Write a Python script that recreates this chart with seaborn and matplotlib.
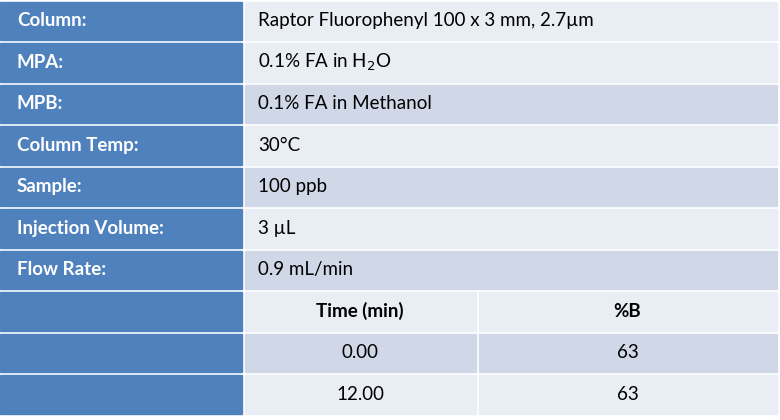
import matplotlib
matplotlib.use("Agg")
import matplotlib.pyplot as plt
import seaborn as sns
from matplotlib.patches import Rectangle

sns.set_theme(style="white")
plt.rcParams['font.family'] = ['Lato', 'DejaVu Sans']

labels = ["Column:", "MPA:", "MPB:", "Column Temp:", "Sample:", "Injection Volume:", "Flow Rate:", "", "", ""]
values = ["Raptor Fluorophenyl 100 x 3 mm, 2.7µm", "0.1% FA in H$_2$O", "0.1% FA in Methanol",
          "30°C", "100 ppb", "3 µL", "0.9 mL/min"]
grad_header = ["Time (min)", "%B"]
grad_time = ["0.00", "12.00"]
grad_b = ["63", "63"]

light, dark, blue = "#E9EDF4", "#D0D8E8", "#4F81BD"
row_colors = [light, light, dark, light, dark, light, dark, light, dark, light]

fig = plt.figure(figsize=(7.8, 4.2), dpi=100)
ax = fig.add_axes([0, 0, 1, 1])
ax.set_xlim(0, 780); ax.set_ylim(420, 0); ax.axis("off")

rh = 415 / 10
x1, x2, x3 = 243, 477, 778
g = 1.5
fs = 13.5
for i in range(10):
    y = i * rh
    ax.add_patch(Rectangle((0, y + g), x1 - g, rh - 2 * g, color=blue))
    if i < 7:
        ax.add_patch(Rectangle((x1 + g, y + g), x3 - x1 - 2 * g, rh - 2 * g, color=row_colors[i]))
    else:
        ax.add_patch(Rectangle((x1 + g, y + g), x2 - x1 - 2 * g, rh - 2 * g, color=row_colors[i]))
        ax.add_patch(Rectangle((x2 + g, y + g), x3 - x2 - 2 * g, rh - 2 * g, color=row_colors[i]))
    yc = y + rh / 2
    if labels[i]:
        ax.text(17, yc, labels[i], color="white", fontsize=fs, fontweight="bold", va="center")
    if i < 7:
        ax.text(258, yc, values[i], color="black", fontsize=fs, va="center")
    elif i == 7:
        ax.text((x1 + x2) / 2, yc, grad_header[0], fontsize=fs, fontweight="bold", ha="center", va="center", color="black")
        ax.text((x2 + x3) / 2, yc, grad_header[1], fontsize=fs, fontweight="bold", ha="center", va="center", color="black")
    else:
        k = i - 8
        ax.text((x1 + x2) / 2, yc, grad_time[k], fontsize=fs, ha="center", va="center", color="black")
        ax.text((x2 + x3) / 2, yc, grad_b[k], fontsize=fs, ha="center", va="center", color="black")

fig.savefig("out.png", dpi=100, facecolor="white")
